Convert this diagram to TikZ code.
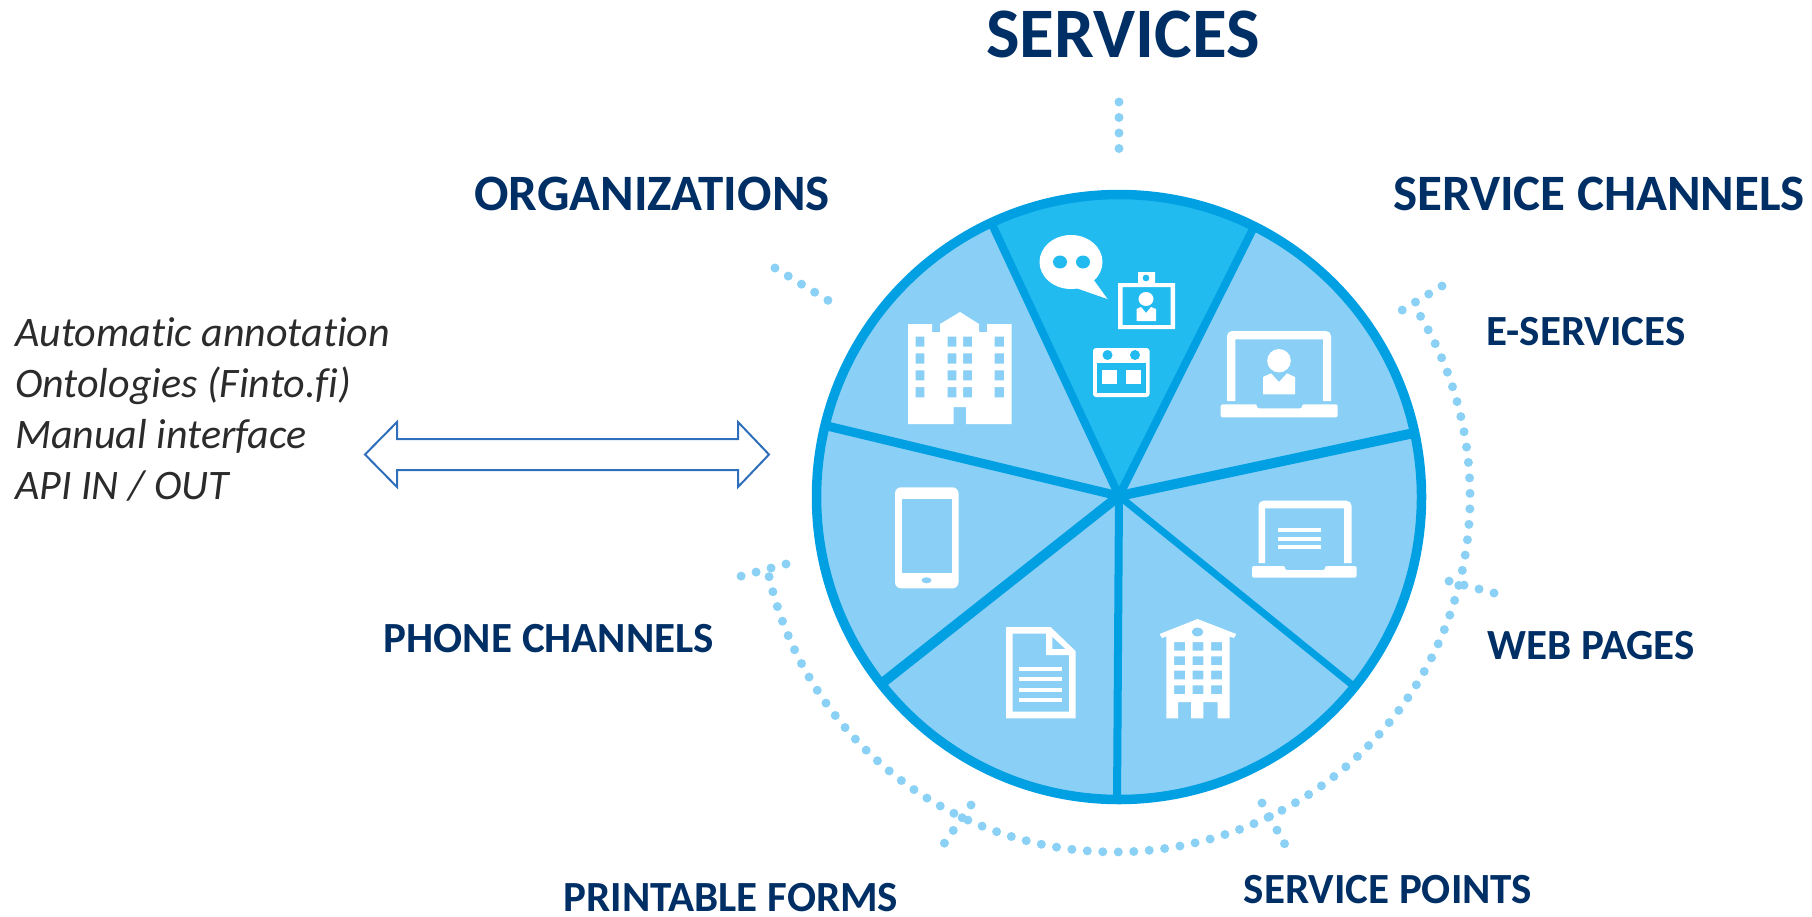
\documentclass[tikz,border=0pt]{standalone}
\usepackage{fontspec}
\setmainfont[Ligatures=NoCommon]{Carlito}
\usetikzlibrary{calc}

\definecolor{navyText}{HTML}{002F66}
\definecolor{greyText}{HTML}{2B2B2B}
\definecolor{rimBlue}{HTML}{00A0E3}
\definecolor{paleBlue}{HTML}{8AD0F6}
\definecolor{brightBlue}{HTML}{22BBF0}
\definecolor{dotBlue}{HTML}{8AD1F5}
\definecolor{arrowBlue}{HTML}{2F6EBA}

\begin{document}
\begin{tikzpicture}[x=1pt,y=-1pt,
        heading/.style=
            {
                text = navyText,
                inner sep = 0,
                font = \fontsize{51}{51}\selectfont\bfseries
            },
        title/.style=
            {
                heading,
                font = \fontsize{71}{71}\selectfont\bfseries
            },
        sublabel/.style=
            {
                heading,
                font = \fontsize{43}{43}\selectfont\bfseries
            },
        toollist/.style=
            {
                text = greyText,
                inner sep = 0,
                align = left,
                font = \fontsize{42}{51}\selectfont\itshape
            },
        twoway/.style=
            {
                draw = arrowBlue,
                line width = 2pt,
                line join = miter
            },
        spoke/.style=
            {
                draw = rimBlue,
                line cap = butt
            },
        dotline/.style=
            {
                draw = dotBlue,
                line width = 9pt,
                line cap = round,
                dash pattern = on 0pt off 15.5pt
            },
        icon/.style=
            {
                fill = white,
                even odd rule
            }
    ]

    \useasboundingbox (0,0) rectangle (1812,916);

    \coordinate (Hub) at (1119,496);
    \coordinate (Disc) at (1119,497);
    \coordinate (Ring) at (1115,497);

    \fill[paleBlue] (Disc) circle (302.5);
    \fill[brightBlue] (Hub) -- ($(Disc)+(-115:302.5)$) arc[start angle=-115,end angle=-63.4,radius=302.5] -- cycle;

    \coordinate (RimTopLeft) at (990,220);
    \coordinate (RimTopRight) at (1254,227);
    \coordinate (RimRight) at (1414,433);
    \coordinate (RimLowRight) at (1356,688);
    \coordinate (RimBottom) at (1117,803);
    \coordinate (RimLowLeft) at (881,684);
    \coordinate (RimLeft) at (823,425);

    \draw[spoke,line width=8pt] (Hub) -- (RimTopLeft);
    \draw[spoke,line width=8pt] (Hub) -- (RimTopRight);
    \draw[spoke,line width=10pt] (Hub) -- (RimRight);
    \draw[spoke,line width=7pt] (Hub) -- (RimLowRight);
    \draw[spoke,line width=8pt] (Hub) -- (RimBottom);
    \draw[spoke,line width=10pt] (Hub) -- (RimLowLeft);
    \draw[spoke,line width=9pt] (Hub) -- (RimLeft);
    \draw[rimBlue,line width=9.5pt] (Disc) circle (302.5);

    % bubble, badge and calendar
    \fill[icon] (1071,262) ellipse (31.5 and 27);
    \fill[icon] (1093,279) -- (1107.5,299) -- (1076,288) -- cycle;
    \fill[brightBlue] (1060,262) ellipse (7 and 6.5);
    \fill[brightBlue] (1083,262) ellipse (7 and 6.5);
    \fill[icon] (1118,283) rectangle (1175,329) (1122.5,287) rectangle (1170.5,325);
    \fill[icon] (1138,272) rectangle (1155,283) (1146,278) circle (3.5);
    \fill[icon] (1146,299) ellipse (7.5 and 7);
    \fill[icon] (1136.5,309) -- (1141,307) -- (1146,313) -- (1151,307) -- (1156,309) -- (1156,321) -- (1136.5,321) -- cycle;
    \fill[icon,rounded corners=3pt] (1093,348) rectangle (1149.5,397);
    \fill[brightBlue] (1097,363) rectangle (1145.5,393);
    \fill[brightBlue] (1107.5,355) ellipse (5 and 5);
    \fill[brightBlue] (1135,355) ellipse (5 and 5);
    \fill[icon] (1102,370) rectangle (1116.7,384);
    \fill[icon] (1126,370) rectangle (1141,384);

    % office block
    \fill[icon] (908,324) -- (932,324) -- (932,332) -- (940,332) -- (940,324) -- (960,312) -- (979,324) -- (979,332) -- (987,332) -- (987,324) -- (1011.5,324) -- (1011.5,424) -- (966,424) -- (966,407) -- (953.5,407) -- (953.5,424) -- (908,424) -- cycle
        (915.5,336.7) rectangle (924.4,346.7) (947.5,336.7) rectangle (956.3,346.7) (963,336.7) rectangle (972,346.7) (994.6,336.7) rectangle (1004,346.7)
        (915.5,353.3) rectangle (924.4,363.7) (947.5,353.3) rectangle (956.3,363.7) (963,353.3) rectangle (972,363.7) (994.6,353.3) rectangle (1004,363.7)
        (915.5,370.3) rectangle (924.4,380.3) (947.5,370.3) rectangle (956.3,380.3) (963,370.3) rectangle (972,380.3) (994.6,370.3) rectangle (1004,380.3)
        (915.5,387) rectangle (924.4,397.3) (947.5,387) rectangle (956.3,397.3) (963,387) rectangle (972,397.3) (994.6,387) rectangle (1004,397.3);

    % laptop with person
    \fill[icon] (1227,401) -- (1227,336) arc[start angle=180,end angle=270,radius=5] -- (1326,331) arc[start angle=270,end angle=360,radius=5] -- (1331,401) -- (1323,401) -- (1323,339.3) -- (1235.4,339.3) -- (1235.4,401) -- cycle;
    \fill[icon,rounded corners=2pt] (1220.7,404.3) -- (1257,404.3) -- (1257,408.3) -- (1302,408.3) -- (1302,404.3) -- (1337.7,404.3) -- (1337.7,417.3) -- (1220.7,417.3) -- cycle;
    \fill[icon] (1279,360.7) ellipse (11.8 and 11.7);
    \fill[icon] (1263,377) -- (1271,373.3) -- (1279,382) -- (1287,373.3) -- (1295,377) -- (1295,394.3) -- (1263,394.3) -- cycle;

    % phone
    \fill[icon,rounded corners=6pt] (895,487.3) rectangle (958.5,588.3);
    \fill[paleBlue] (902,499.3) rectangle (951.7,573.3);
    \fill[paleBlue] (926.5,580.3) ellipse (5 and 3);

    % laptop with text
    \fill[icon] (1258.5,563) -- (1258.5,505.7) arc[start angle=180,end angle=270,radius=5] -- (1346.5,500.7) arc[start angle=270,end angle=360,radius=5] -- (1351.5,563) -- (1344,563) -- (1344,508.3) -- (1265,508.3) -- (1265,563) -- cycle;
    \fill[icon,rounded corners=2pt] (1252,566) -- (1285,566) -- (1285,570) -- (1325,570) -- (1325,566) -- (1356.6,566) -- (1356.6,577.7) -- (1252,577.7) -- cycle;
    \fill[icon] (1277.5,528) rectangle (1321,532);
    \fill[icon] (1277.5,536.7) rectangle (1321,540.7);
    \fill[icon] (1277.5,545) rectangle (1321,549);

    % form
    \fill[icon] (1006,627) -- (1050.6,627) -- (1075.5,651) -- (1075.5,718.3) -- (1006,718.3) -- cycle
        (1012.7,633.7) -- (1046,633.7) -- (1046,655) -- (1069,655) -- (1069,711.7) -- (1012.7,711.7) -- cycle
        (1052.3,636.7) -- (1052.3,649) -- (1065.4,649) -- cycle;
    \fill[icon] (1019,666.7) rectangle (1062,670.7);
    \fill[icon] (1019,677.3) rectangle (1062,681.3);
    \fill[icon] (1019,687.7) rectangle (1062,691.7);
    \fill[icon] (1019,698.3) rectangle (1062,702.3);

    % service point
    \fill[icon] (1197.5,619) -- (1236.2,634) -- (1234,638) -- (1229.5,636.5) -- (1229.5,718.3) -- (1217.7,718.3) -- (1217.7,702) -- (1203.4,702) -- (1203.4,718.3) -- (1191,718.3) -- (1191,702) -- (1178,702) -- (1178,718.3) -- (1166.4,718.3) -- (1166.4,636.5) -- (1162,638) -- (1159.6,634) -- cycle
        (1197.5,632) ellipse (6 and 4.5)
        (1174,642) rectangle (1185,650.7) (1192.5,642) rectangle (1203.4,650.7) (1211,642) rectangle (1222,650.7)
        (1174,656.3) rectangle (1185,665) (1192.5,656.3) rectangle (1203.4,665) (1211,656.3) rectangle (1222,665)
        (1174,670.7) rectangle (1185,679.3) (1192.5,670.7) rectangle (1203.4,679.3) (1211,670.7) rectangle (1222,679.3)
        (1174,685.3) rectangle (1185,694) (1192.5,685.3) rectangle (1203.4,694) (1211,685.3) rectangle (1222,694);

    % dotted marks
    \coordinate (TopA) at (1119,102);
    \coordinate (TopB) at (1119,158);
    \coordinate (OrgA) at (775,268);
    \coordinate (OrgB) at (834,304);
    \coordinate (EservA) at (1442,286);
    \coordinate (EservB) at (1399,312);
    \coordinate (WebA) at (1494,593);
    \coordinate (WebB) at (1441,579);
    \coordinate (PointA) at (1262,803);
    \coordinate (PointB) at (1288,850);
    \coordinate (FormA) at (971,805);
    \coordinate (FormB) at (941,848);
    \coordinate (PhoneA) at (786,564);
    \coordinate (PhoneB) at (734,578);
    \draw[dotline] (TopA) -- (TopB);
    \draw[dotline] (OrgA) -- (OrgB);
    \draw[dotline] (EservA) -- (EservB);
    \draw[dotline] (WebA) -- (WebB);
    \draw[dotline] (PointA) -- (PointB);
    \draw[dotline] (FormA) -- (FormB);
    \draw[dotline] (PhoneA) -- (PhoneB);
    \draw[dotline] ($(Ring)+(-30.6:355)$) arc[start angle=-30.6,end angle=167.5,radius=355];

    \draw (1123,34) node[title] (Services) {SERVICES};
    \draw (652,194) node[heading] (Organizations) {ORGANIZATIONS};
    \draw (1599,194) node[heading] (Channels) {SERVICE CHANNELS};
    \draw (1586,332) node[sublabel] (Eservices) {E-SERVICES};
    \draw (1591,646) node[sublabel] (Webpages) {WEB PAGES};
    \draw (1388,890) node[sublabel] (Servicepoints) {SERVICE POINTS};
    \draw (731,898) node[sublabel] (Printable) {PRINTABLE FORMS};
    \draw (549,639) node[sublabel] (Phone) {PHONE CHANNELS};

    \draw (15,409) node[toollist,anchor=west] (Tools) {Automatic annotation\\Ontologies (Finto.fi)\\Manual interface\\API IN / OUT};

    \draw[twoway] (365,454.5) -- (397,422) -- (397,439) -- (738,439) -- (738,422) -- (769,454.5) -- (738,487) -- (738,470) -- (397,470) -- (397,487) -- cycle;

\end{tikzpicture}
\end{document}
